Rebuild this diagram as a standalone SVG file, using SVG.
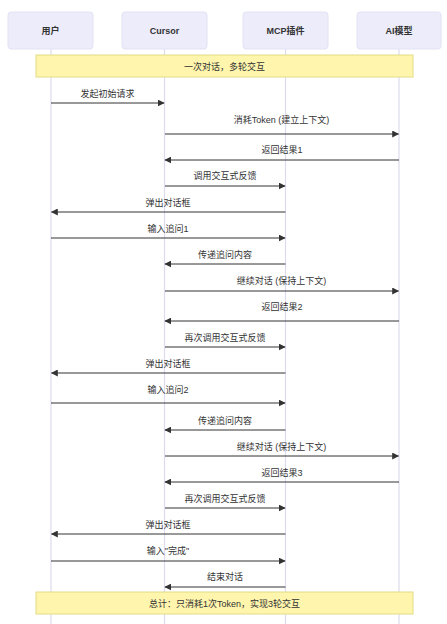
<svg xmlns="http://www.w3.org/2000/svg" width="447" height="624" viewBox="0 0 447 624">
<defs>
<marker id="ah" viewBox="0 0 10 10" refX="9" refY="5" markerWidth="7" markerHeight="7" markerUnits="userSpaceOnUse" orient="auto">
<path d="M0,0 L10,5 L0,10 z" fill="#333"/>
</marker>
<style>
.actor{fill:#ececfb;stroke:#e2e2f3;stroke-width:1}
.atext{font-family:"Liberation Sans","Noto Sans CJK SC",sans-serif;font-size:9px;fill:#333;text-anchor:middle;font-weight:bold}
.life{stroke:#dcdcee;stroke-width:1.2}
.note{fill:#fff5ad;stroke:#e2dc86;stroke-width:1}
.ntext{font-family:"Liberation Sans","Noto Sans CJK SC",sans-serif;font-size:9px;fill:#333;text-anchor:middle}
.msg{stroke:#333;stroke-width:1;fill:none;marker-end:url(#ah)}
.mtext{font-family:"Liberation Sans","Noto Sans CJK SC",sans-serif;font-size:9px;fill:#333;text-anchor:middle}
</style>
</defs>
<rect width="447" height="624" fill="#ffffff"/>
<g id="lifelines">
<line class="life" x1="51" y1="49" x2="51" y2="624"/>
<line class="life" x1="164.5" y1="49" x2="164.5" y2="624"/>
<line class="life" x1="285.5" y1="49" x2="285.5" y2="624"/>
<line class="life" x1="399" y1="49" x2="399" y2="624"/>
</g>
<g id="actor-user"><rect class="actor" x="8" y="12" width="85" height="37" rx="3"/><text class="atext" x="50.5" y="34">用户</text></g>
<g id="actor-cursor"><rect class="actor" x="122" y="12" width="85" height="37" rx="3"/><text class="atext" x="164.5" y="34">Cursor</text></g>
<g id="actor-mcp"><rect class="actor" x="243" y="12" width="85" height="37" rx="3"/><text class="atext" x="285.5" y="34">MCP插件</text></g>
<g id="actor-ai"><rect class="actor" x="357" y="12" width="84" height="37" rx="3"/><text class="atext" x="399" y="34">AI模型</text></g>
<g id="note-1"><rect class="note" x="36" y="55" width="377" height="22"/><text class="ntext" x="224.5" y="69.5">一次对话，多轮交互</text></g>
<g id="note-2"><rect class="note" x="36" y="592" width="377" height="22"/><text class="ntext" x="224.5" y="606.5">总计：只消耗1次Token，实现3轮交互</text></g>
<g id="connectors">
<line class="msg" x1="51" y1="103" x2="164" y2="103"/>
<line class="msg" x1="165" y1="134" x2="398.5" y2="134"/>
<line class="msg" x1="399" y1="160" x2="165" y2="160"/>
<line class="msg" x1="165" y1="186" x2="285" y2="186"/>
<line class="msg" x1="285.5" y1="212" x2="51.5" y2="212"/>
<line class="msg" x1="51" y1="238" x2="285" y2="238"/>
<line class="msg" x1="285.5" y1="264" x2="165" y2="264"/>
<line class="msg" x1="165" y1="291" x2="398.5" y2="291"/>
<line class="msg" x1="399" y1="321" x2="165" y2="321"/>
<line class="msg" x1="165" y1="347" x2="285" y2="347"/>
<line class="msg" x1="285.5" y1="373" x2="51.5" y2="373"/>
<line class="msg" x1="51" y1="403" x2="285" y2="403"/>
<line class="msg" x1="285.5" y1="430" x2="165" y2="430"/>
<line class="msg" x1="165" y1="456" x2="398.5" y2="456"/>
<line class="msg" x1="399" y1="482" x2="165" y2="482"/>
<line class="msg" x1="165" y1="508" x2="285" y2="508"/>
<line class="msg" x1="285.5" y1="534" x2="51.5" y2="534"/>
<line class="msg" x1="51" y1="561" x2="285" y2="561"/>
<line class="msg" x1="285.5" y1="587" x2="165" y2="587"/>
</g>
<g id="labels">
<text class="mtext" x="107.5" y="97">发起初始请求</text>
<text class="mtext" x="281.5" y="123">消耗Token (建立上下文)</text>
<text class="mtext" x="282" y="153">返回结果1</text>
<text class="mtext" x="225" y="179">调用交互式反馈</text>
<text class="mtext" x="168" y="206">弹出对话框</text>
<text class="mtext" x="168" y="232">输入追问1</text>
<text class="mtext" x="225" y="258">传递追问内容</text>
<text class="mtext" x="281.5" y="284">继续对话 (保持上下文)</text>
<text class="mtext" x="282" y="310">返回结果2</text>
<text class="mtext" x="225" y="341">再次调用交互式反馈</text>
<text class="mtext" x="168" y="367">弹出对话框</text>
<text class="mtext" x="168" y="393">输入追问2</text>
<text class="mtext" x="225" y="424">传递追问内容</text>
<text class="mtext" x="281.5" y="450">继续对话 (保持上下文)</text>
<text class="mtext" x="282" y="476">返回结果3</text>
<text class="mtext" x="225" y="502">再次调用交互式反馈</text>
<text class="mtext" x="168" y="528">弹出对话框</text>
<text class="mtext" x="168" y="554">输入"完成"</text>
<text class="mtext" x="225" y="580">结束对话</text>
</g>
</svg>
